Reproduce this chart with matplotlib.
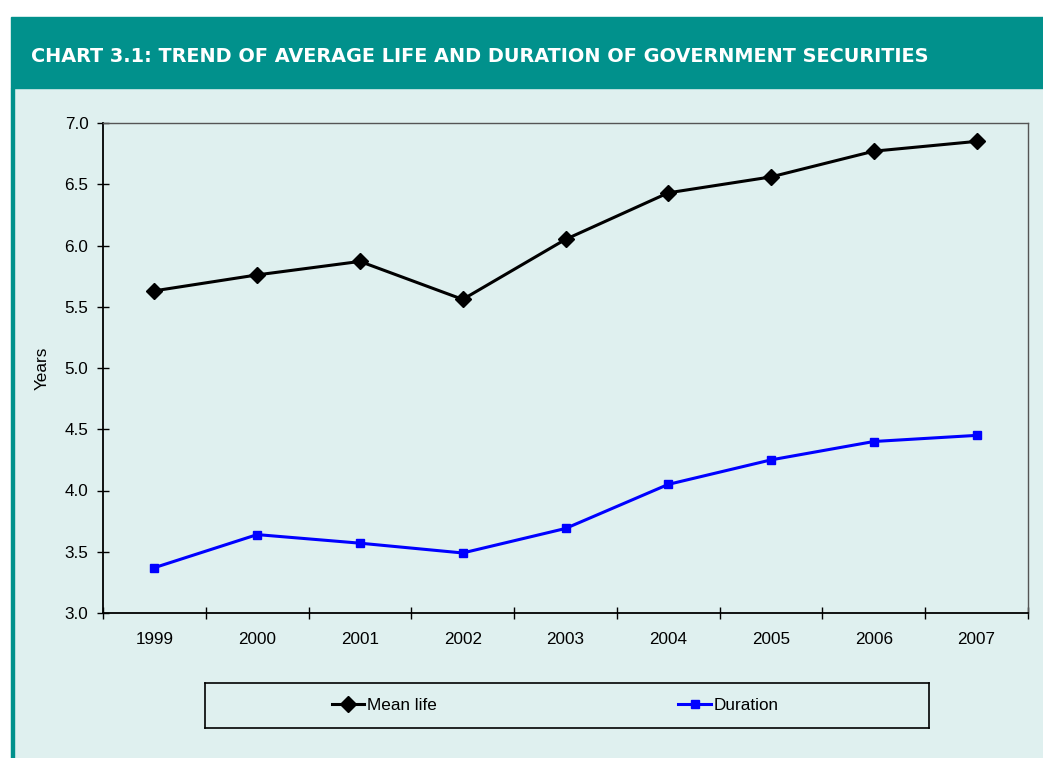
import matplotlib
matplotlib.use("Agg")
import matplotlib.pyplot as plt
from matplotlib.patches import Rectangle
from matplotlib.lines import Line2D
import numpy as np

# ============================================================
# Data
# ============================================================
YEARS = ["1999", "2000", "2001", "2002", "2003", "2004", "2005", "2006", "2007"]
MEAN_LIFE = [5.63, 5.76, 5.87, 5.56, 6.05, 6.43, 6.56, 6.77, 6.85]
DURATION = [3.37, 3.64, 3.57, 3.49, 3.69, 4.05, 4.25, 4.40, 4.45]

TITLE = "CHART 3.1: TREND OF AVERAGE LIFE AND DURATION OF GOVERNMENT SECURITIES"

TEAL = "#01918C"
PANEL = "#DFF0EF"

W, H = 1043, 758
plt.rcParams["font.family"] = ["Liberation Sans", "DejaVu Sans"]

fig = plt.figure(figsize=(W / 100, H / 100), dpi=100)
fig.patch.set_facecolor("white")


def px(x0, y0, x1, y1):
    # pixel box (top-left origin) -> figure fraction rect
    return [x0 / W, 1 - y1 / H, (x1 - x0) / W, (y1 - y0) / H]


# background axes: light panel, teal header, teal left border
bg = fig.add_axes([0, 0, 1, 1], zorder=-10)
bg.set_xlim(0, W)
bg.set_ylim(H, 0)
bg.axis("off")
bg.add_patch(Rectangle((11, 88), W - 11, H - 88, color=PANEL))
bg.add_patch(Rectangle((11, 17), W - 11, 71, color=TEAL))
bg.add_patch(Rectangle((11, 88), 3, H - 88, color=TEAL))
bg.text(31, 56, TITLE, color="white", fontsize=13.9, fontweight="bold",
        va="center", ha="left", family=["DejaVu Sans"])

ax = fig.add_axes(px(103, 123, 1028, 613))
ax.set_facecolor(PANEL)
x = np.arange(len(YEARS))
ax.plot(x, MEAN_LIFE, color="black", lw=2.2, marker="D", ms=8,
        label="Mean life", zorder=3)
ax.plot(x, DURATION, color="#0000FF", lw=2.2, marker="s", ms=5.5,
        label="Duration", zorder=3)

ax.set_xlim(-0.5, len(YEARS) - 0.5)
ax.set_ylim(3.0, 7.0)
yt = np.arange(3.0, 7.01, 0.5)
ax.set_yticks(yt)
ax.set_yticklabels([f"{v:.1f}" for v in yt])
ax.set_xticks(x)
ax.set_xticklabels(YEARS)
ax.set_xticks(np.arange(-0.5, len(YEARS)), minor=True)
ax.tick_params(axis="x", which="major", length=0, pad=14, labelsize=12.3)
ax.tick_params(axis="x", which="minor", direction="inout", length=9, width=1)
ax.tick_params(axis="y", direction="inout", length=9, width=1, pad=6,
               labelsize=12.3)
for side in ["left", "bottom"]:
    ax.spines[side].set_linewidth(1.3)
for side in ["top", "right"]:
    ax.spines[side].set_linewidth(1.0)
    ax.spines[side].set_color("#555555")
ax.set_ylabel("Years", fontsize=12.3, labelpad=11)

# legend box
leg_ax = fig.add_axes(px(205, 683, 929, 728))
leg_ax.set_facecolor(PANEL)
leg_ax.set_xticks([])
leg_ax.set_yticks([])
for s in leg_ax.spines.values():
    s.set_linewidth(1.2)
h1 = Line2D([], [], color="black", lw=2.2, marker="D", ms=8)
h2 = Line2D([], [], color="#0000FF", lw=2.2, marker="s", ms=5.5)
leg_kw = dict(loc="center left", frameon=False, fontsize=12.3,
              handlelength=1.9, handletextpad=0.15, borderaxespad=0,
              borderpad=0)
leg1 = leg_ax.legend([h1], ["Mean life"], bbox_to_anchor=(0.175, 0.5), **leg_kw)
leg_ax.add_artist(leg1)
leg_ax.legend([h2], ["Duration"], bbox_to_anchor=(0.654, 0.5), **leg_kw)

fig.savefig("out.png", dpi=100, facecolor=fig.get_facecolor())
